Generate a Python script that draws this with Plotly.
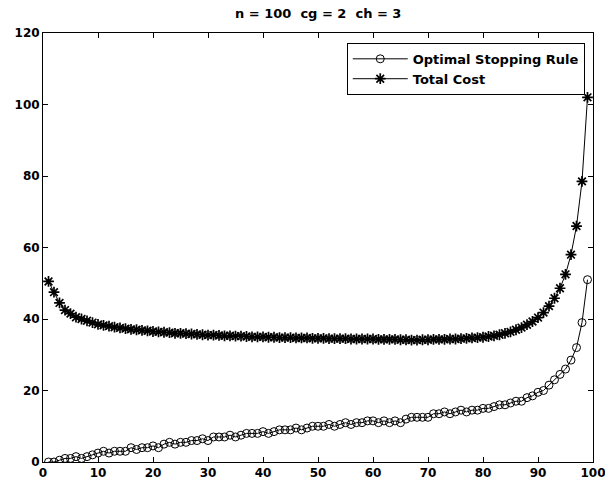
import plotly.graph_objects as go

x_vals = list(range(1, 100))

optimal_stopping_rule = [
    0, 0, 0.5, 1, 1, 1.5, 1, 1.5, 2, 2.5,
    3, 2.5, 3, 3, 3, 4, 3.5, 4, 4, 4.5,
    4, 5, 5.5, 5, 5.5, 5.5, 6, 6, 6.5, 6,
    7, 7, 7, 7.5, 7, 7.5, 8, 8, 8, 8.5,
    8, 8.5, 9, 9, 9, 9.5, 9, 9.5, 10, 10,
    10, 10.5, 10, 10.5, 11, 10.5, 11, 11, 11.5, 11.5,
    11, 11.5, 11, 11.5, 11, 12, 12.5, 12.5, 12.5, 12.5,
    13.5, 13.5, 14, 13.5, 14, 14.5, 14, 14.5, 14.5, 15,
    15, 15.5, 16, 16, 16.5, 17, 17, 18, 18.5, 19.5,
    20, 21.5, 23, 24.5, 26, 28.5, 32, 39, 51,
]

total_cost = [
    50.5, 47.5, 44.5, 42.5, 41.5, 40.5, 40, 39.5, 39, 38.5,
    38.2, 38, 37.7, 37.5, 37.3, 37.1, 37, 36.8, 36.7, 36.5,
    36.4, 36.3, 36.2, 36, 36, 35.9, 35.8, 35.7, 35.6, 35.5,
    35.5, 35.4, 35.3, 35.3, 35.2, 35.2, 35.1, 35, 35, 35,
    34.9, 34.9, 34.8, 34.8, 34.8, 34.7, 34.7, 34.7, 34.6, 34.6,
    34.6, 34.5, 34.5, 34.5, 34.5, 34.4, 34.4, 34.4, 34.4, 34.4,
    34.3, 34.3, 34.3, 34.3, 34.2, 34.2, 34.1, 34.1, 34.2, 34.2,
    34.3, 34.3, 34.3, 34.4, 34.4, 34.5, 34.6, 34.7, 34.8, 34.9,
    35.1, 35.3, 35.6, 36, 36.4, 37, 37.6, 38.4, 39.3, 40.4,
    41.8, 43.6, 45.8, 48.6, 52.5, 58, 66, 78.5, 102,
]

x_ticks = [0, 10, 20, 30, 40, 50, 60, 70, 80, 90, 100]
y_ticks = [0, 20, 40, 60, 80, 100, 120]
title_text = "n = 100  cg = 2  ch = 3"

font_family = "DejaVu Sans, sans-serif"

fig = go.Figure()
fig.add_trace(go.Scatter(
    x=x_vals, y=optimal_stopping_rule, mode="lines+markers",
    name="Optimal Stopping Rule",
    line=dict(color="black", width=1),
    marker=dict(symbol="circle-open", size=8, color="black",
                line=dict(color="black", width=1)),
))
fig.add_trace(go.Scatter(
    x=x_vals, y=total_cost, mode="lines+markers",
    name="Total Cost",
    line=dict(color="black", width=1),
    marker=dict(symbol="asterisk-open", size=9, color="black",
                line=dict(color="black", width=1.7)),
))

axis_common = dict(
    showline=True, linecolor="black", linewidth=1, mirror="ticks",
    ticks="inside", ticklen=5, tickcolor="black", tickwidth=1,
    showgrid=False, zeroline=False, automargin=False,
    ticklabeloverflow="allow",
    tickfont=dict(family=font_family, size=12, color="black", weight="bold"),
)

fig.update_layout(
    template="none",
    width=605, height=483,
    margin=dict(l=43, r=12, t=33, b=21, autoexpand=False),
    paper_bgcolor="white", plot_bgcolor="white",
    title=dict(text=title_text, x=0.526, xanchor="center",
               y=0.972, yanchor="middle", yref="container",
               font=dict(family=font_family, size=13, color="black", weight="bold")),
    xaxis=dict(range=[0, 100], tickvals=x_ticks, **axis_common),
    yaxis=dict(range=[0, 120], tickvals=y_ticks, **axis_common),
    legend=dict(x=0.985, xanchor="right", y=0.977, yanchor="top",
                bordercolor="black", borderwidth=1, bgcolor="white",
                itemwidth=55,
                font=dict(family=font_family, size=13, color="black", weight="bold"),
                tracegroupgap=0),
    showlegend=True,
)

fig.write_html(
    "out.html",
    config={"displayModeBar": False},
    post_script="document.body.style.margin='0';document.body.style.padding='0';",
)
